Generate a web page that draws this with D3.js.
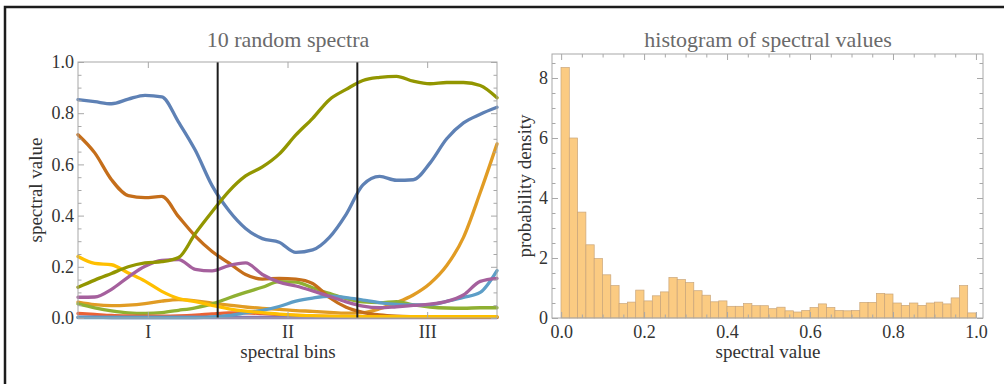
<!DOCTYPE html>
<html>
<head>
<meta charset="utf-8">
<script src="https://cdnjs.cloudflare.com/ajax/libs/d3/7.8.5/d3.min.js"></script>
<style>
body { margin: 0; background: #fff; }
text { font-family: "Liberation Serif", "DejaVu Serif", serif; }
</style>
</head>
<body>
<svg class="svg-spectra" width="1004" height="384"></svg>
<script>
// sample positions along the spectral bins (0 - 100)
const binPos = [0, 4, 8, 12, 16, 20, 24, 28, 32, 36, 40, 44, 48, 52, 56, 60, 64, 68, 72, 76, 80, 84, 88, 92, 96, 100]

// 10 spectra
const specBlue = [0.853, 0.845, 0.837, 0.855, 0.87, 0.864, 0.765, 0.655, 0.517, 0.42, 0.35, 0.31, 0.296, 0.256, 0.266, 0.315, 0.405, 0.52, 0.553, 0.538, 0.54, 0.605, 0.7, 0.762, 0.796, 0.823]
const specOrange = [0.062, 0.052, 0.048, 0.05, 0.056, 0.066, 0.072, 0.067, 0.058, 0.05, 0.043, 0.038, 0.034, 0.029, 0.026, 0.022, 0.019, 0.021, 0.036, 0.06, 0.09, 0.135, 0.205, 0.315, 0.49, 0.68]
const specGreen = [0.055, 0.04, 0.028, 0.02, 0.018, 0.021, 0.03, 0.04, 0.055, 0.078, 0.1, 0.12, 0.142, 0.14, 0.118, 0.096, 0.076, 0.063, 0.06, 0.064, 0.051, 0.043, 0.039, 0.038, 0.04, 0.04]
const specRed = [0.018, 0.014, 0.01, 0.008, 0.007, 0.007, 0.008, 0.011, 0.016, 0.02, 0.02, 0.017, 0.013, 0.01, 0.008, 0.006, 0.005, 0.004, 0.004, 0.004, 0.004, 0.004, 0.004, 0.004, 0.004, 0.004]
const specPurple = [0.003, 0.003, 0.002, 0.002, 0.002, 0.002, 0.002, 0.002, 0.002, 0.002, 0.002, 0.002, 0.002, 0.002, 0.002, 0.002, 0.002, 0.002, 0.002, 0.002, 0.002, 0.002, 0.002, 0.002, 0.002, 0.002]
const specDarkOrange = [0.716, 0.645, 0.54, 0.478, 0.47, 0.475, 0.396, 0.32, 0.26, 0.215, 0.17, 0.152, 0.155, 0.152, 0.135, 0.08, 0.042, 0.022, 0.012, 0.007, 0.005, 0.004, 0.003, 0.003, 0.003, 0.003]
const specLightBlue = [0.002, 0.002, 0.002, 0.002, 0.002, 0.002, 0.002, 0.002, 0.004, 0.01, 0.02, 0.03, 0.045, 0.066, 0.078, 0.085, 0.08, 0.07, 0.06, 0.053, 0.051, 0.052, 0.065, 0.08, 0.1, 0.185]
const specYellow = [0.24, 0.213, 0.208, 0.176, 0.144, 0.104, 0.076, 0.064, 0.049, 0.036, 0.027, 0.021, 0.015, 0.011, 0.009, 0.007, 0.006, 0.005, 0.005, 0.005, 0.005, 0.005, 0.005, 0.005, 0.005, 0.005]
const specMauve = [0.081, 0.082, 0.112, 0.16, 0.202, 0.225, 0.228, 0.19, 0.184, 0.205, 0.215, 0.17, 0.14, 0.125, 0.106, 0.085, 0.063, 0.046, 0.04, 0.044, 0.049, 0.054, 0.065, 0.09, 0.143, 0.155]
const specOlive = [0.12, 0.148, 0.174, 0.2, 0.215, 0.22, 0.236, 0.33, 0.415, 0.495, 0.555, 0.59, 0.64, 0.715, 0.78, 0.853, 0.893, 0.928, 0.94, 0.944, 0.925, 0.915, 0.92, 0.92, 0.908, 0.86]

const spectra = [specBlue, specOrange, specGreen, specRed, specPurple, specDarkOrange, specLightBlue, specYellow, specMauve, specOlive]
const specColors = ["#5E81B5", "#E19C24", "#8FB032", "#EB6235", "#8778B3", "#C56E1A", "#5D9EC7", "#FFBF00", "#A5609D", "#929600"]

// region dividers + labels
const dividers = [100 / 3, 200 / 3]
const regionLabels = ["I", "II", "III"]
const regionPos = [100 / 6, 50, 500 / 6]

// histogram: 50 bins of width 0.02 over [0, 1]
const histValues = [8.35, 6.0, 3.53, 2.44, 1.98, 1.44, 1.08, 0.48, 0.53, 0.93, 0.57, 0.74, 0.87, 1.35, 1.28, 1.18, 0.91, 0.76, 0.54, 0.57, 0.39, 0.39,
    0.48, 0.41, 0.41, 0.31, 0.36, 0.24, 0.2, 0.25, 0.35, 0.47, 0.35, 0.25, 0.24, 0.25, 0.52, 0.52, 0.82, 0.8, 0.5, 0.42, 0.5, 0.42, 0.5, 0.53, 0.47, 0.67, 1.08, 0.17]
const binWidth = 0.02

const leftYTicks = [0, 0.2, 0.4, 0.6, 0.8, 1.0]
const leftYMinor = [0.05, 0.1, 0.15, 0.25, 0.3, 0.35, 0.45, 0.5, 0.55, 0.65, 0.7, 0.75, 0.85, 0.9, 0.95]
const histXTicks = [0, 0.2, 0.4, 0.6, 0.8, 1.0]
const histXMinor = [0.05, 0.1, 0.15, 0.25, 0.3, 0.35, 0.45, 0.5, 0.55, 0.65, 0.7, 0.75, 0.85, 0.9, 0.95]
const histYTicks = [0, 2, 4, 6, 8]
const histYMinor = [0.5, 1, 1.5, 2.5, 3, 3.5, 4.5, 5, 5.5, 6.5, 7, 7.5, 8.5]

var svg = d3.select('.svg-spectra')
var frameColor = '#a8a8a8'
var labelColor = '#333333'

// outer border
svg.append('path')
    .attr('d', 'M5,384 V7 H1004')
    .attr('fill', 'none')
    .attr('stroke', '#1c1c1c')
    .attr('stroke-width', 2.5)

// draws inward ticks on all 4 sides of a frame
function frameTicks(g, x, y, xMajor, xMinor, yMajor, yMinor, xFmt, yFmt) {
    var x0 = x.range()[0], x1 = x.range()[1]
    var y0 = y.range()[0], y1 = y.range()[1]
    var sides = [
        { axis: d3.axisBottom(x), t: 'translate(0,' + y0 + ')', vals: xMajor, minor: xMinor, label: true, fmt: xFmt },
        { axis: d3.axisTop(x), t: 'translate(0,' + y1 + ')', vals: xMajor, minor: xMinor, label: false },
        { axis: d3.axisLeft(y), t: 'translate(' + x0 + ',0)', vals: yMajor, minor: yMinor, label: true, fmt: yFmt },
        { axis: d3.axisRight(y), t: 'translate(' + x1 + ',0)', vals: yMajor, minor: yMinor, label: false }
    ]
    sides.forEach(s => {
        var major = s.axis.tickValues(s.vals).tickSizeInner(-6).tickSizeOuter(0).tickPadding(4)
        if (s.label) major.tickFormat(s.fmt)
        else major.tickFormat('')
        var ga = g.append('g').attr('transform', s.t).call(major)
        ga.select('.domain').remove()
        ga.selectAll('line').attr('stroke', frameColor)
        ga.selectAll('text')
            .attr('fill', labelColor)
            .style('font-size', '18px')
            .style('font-family', '"Liberation Serif", serif')
        if (s.minor.length) {
            var gm = g.append('g').attr('transform', s.t)
                .call(s.axis.tickValues(s.minor).tickSizeInner(-3.5).tickFormat(''))
            gm.select('.domain').remove()
            gm.selectAll('line').attr('stroke', frameColor)
        }
    })
    g.append('rect')
        .attr('x', x0).attr('y', y1)
        .attr('width', x1 - x0).attr('height', y0 - y1)
        .attr('fill', 'none')
        .attr('stroke', frameColor)
        .attr('stroke-width', 1)
}

//================ left: 10 random spectra ================
var xL = d3.scaleLinear().domain([0, 100]).range([78, 497])
var yL = d3.scaleLinear().domain([0, 1]).range([318, 62])

var gL = svg.append('g').attr('class', 'spectra-plot')

var line = d3.line()
    .x((d, i) => xL(binPos[i]))
    .y(d => yL(d))
    .curve(d3.curveMonotoneX)

gL.selectAll('.spec')
    .data(spectra)
    .enter()
    .append('path')
    .attr('class', 'spec')
    .attr('d', d => line(d))
    .attr('fill', 'none')
    .attr('stroke', (d, i) => specColors[i])
    .attr('stroke-width', 3.3)
    .attr('stroke-linejoin', 'round')
    .attr('stroke-linecap', 'round')

gL.selectAll('.divider')
    .data(dividers)
    .enter()
    .append('line')
    .attr('x1', d => xL(d)).attr('x2', d => xL(d))
    .attr('y1', yL(0)).attr('y2', yL(1))
    .attr('stroke', '#1c1c1c')
    .attr('stroke-width', 2)

frameTicks(gL, xL, yL, regionPos, [], leftYTicks, leftYMinor,
    (d, i) => regionLabels[i], d3.format('.1f'))
gL.selectAll('.tick text').filter(function () { return this.getAttribute('dy') === '0.71em' }).attr('dy', '0.9em')

gL.append('text')
    .attr('x', 288).attr('y', 47)
    .attr('text-anchor', 'middle')
    .attr('fill', '#6a6a6a')
    .style('font-size', '22px')
    .text('10 random spectra')
gL.append('text')
    .attr('x', 288).attr('y', 358)
    .attr('text-anchor', 'middle')
    .attr('fill', labelColor)
    .style('font-size', '19px')
    .text('spectral bins')
gL.append('text')
    .attr('transform', 'translate(42,190) rotate(-90)')
    .attr('text-anchor', 'middle')
    .attr('fill', labelColor)
    .style('font-size', '19px')
    .text('spectral value')

//================ right: histogram ================
var xR = d3.scaleLinear().domain([0, 1]).range([561, 976])
var yR = d3.scaleLinear().domain([0, 8]).range([318, 78])

var gR = svg.append('g').attr('class', 'hist-plot')

gR.selectAll('.bar')
    .data(histValues)
    .enter()
    .append('rect')
    .attr('class', 'bar')
    .attr('x', (d, i) => xR(i * binWidth))
    .attr('width', xR(binWidth) - xR(0))
    .attr('y', d => yR(d))
    .attr('height', d => yR(0) - yR(d))
    .attr('fill', '#FBCB82')
    .attr('stroke', '#C9A57A')
    .attr('stroke-width', 0.7)

var xRf = d3.scaleLinear().domain([-0.022, 1.017]).range([552, 983])
var yRf = d3.scaleLinear().domain([0, 8.8]).range([318, 54])
frameTicks(gR, xRf, yRf, histXTicks, histXMinor, histYTicks, histYMinor,
    d3.format('.1f'), d3.format('d'))
gR.selectAll('.tick text').filter(function () { return this.getAttribute('dy') === '0.71em' }).attr('dy', '0.9em')

gR.append('text')
    .attr('x', 768).attr('y', 47)
    .attr('text-anchor', 'middle')
    .attr('fill', '#6a6a6a')
    .style('font-size', '22px')
    .text('histogram of spectral values')
gR.append('text')
    .attr('x', 768).attr('y', 358)
    .attr('text-anchor', 'middle')
    .attr('fill', labelColor)
    .style('font-size', '19px')
    .text('spectral value')
gR.append('text')
    .attr('transform', 'translate(531,186) rotate(-90)')
    .attr('text-anchor', 'middle')
    .attr('fill', labelColor)
    .style('font-size', '19px')
    .text('probability density')
</script>
</body>
</html>
